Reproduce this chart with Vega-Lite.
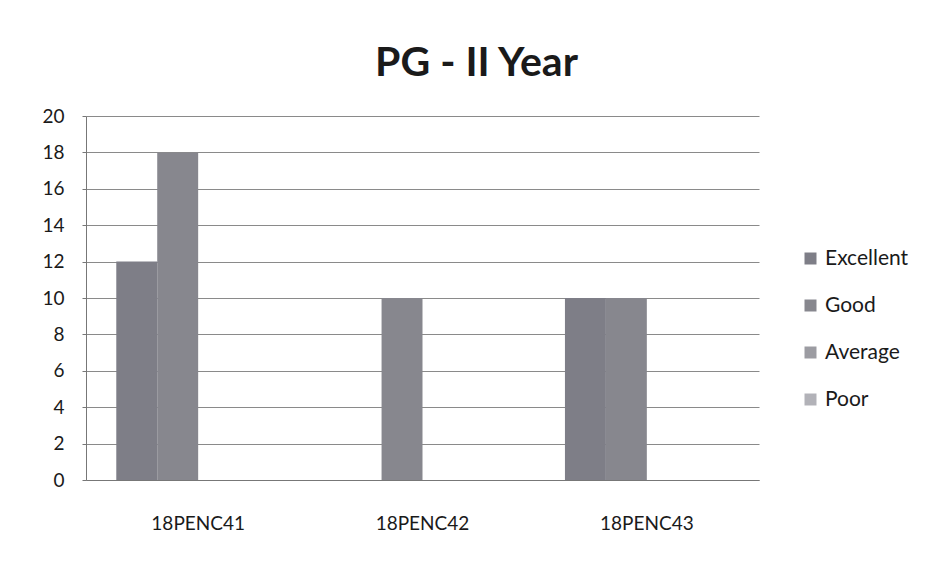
{
  "$schema": "https://vega.github.io/schema/vega-lite/v6.json",
  "autosize": {"type": "none"},
  "width": 673,
  "height": 364,
  "padding": {"left": 86, "top": 116, "right": 185, "bottom": 85},
  "background": "#ffffff",
  "title": {
    "text": "PG - II Year",
    "font": "Lato",
    "fontSize": 41,
    "fontWeight": "bold",
    "color": "#1a1a1a",
    "anchor": "middle",
    "dx": 54,
    "offset": 22
  },
  "data": {
    "values": [
      {"course": "18PENC41", "rating": "Excellent", "count": 12},
      {"course": "18PENC41", "rating": "Good", "count": 18},
      {"course": "18PENC41", "rating": "Average", "count": 0},
      {"course": "18PENC41", "rating": "Poor", "count": 0},
      {"course": "18PENC42", "rating": "Excellent", "count": 0},
      {"course": "18PENC42", "rating": "Good", "count": 10},
      {"course": "18PENC42", "rating": "Average", "count": 0},
      {"course": "18PENC42", "rating": "Poor", "count": 0},
      {"course": "18PENC43", "rating": "Excellent", "count": 10},
      {"course": "18PENC43", "rating": "Good", "count": 10},
      {"course": "18PENC43", "rating": "Average", "count": 0},
      {"course": "18PENC43", "rating": "Poor", "count": 0}
    ]
  },
  "mark": {"type": "bar"},
  "encoding": {
    "x": {
      "field": "course",
      "type": "nominal",
      "sort": ["18PENC41", "18PENC42", "18PENC43"],
      "scale": {"paddingInner": 0.27, "paddingOuter": 0.135},
      "axis": {
        "title": null,
        "labelAngle": 0,
        "labelFont": "Lato",
        "labelFontSize": 19,
        "labelColor": "#1a1a1a",
        "labelPadding": 34,
        "labelDx": -10,
        "ticks": false,
        "domain": true,
        "domainColor": "#777777",
        "grid": false
      }
    },
    "xOffset": {
      "field": "rating",
      "type": "nominal",
      "sort": ["Excellent", "Good", "Average", "Poor"],
      "scale": {"paddingInner": 0, "paddingOuter": 0}
    },
    "y": {
      "field": "count",
      "type": "quantitative",
      "scale": {"domain": [0, 20]},
      "axis": {
        "title": null,
        "values": [0, 2, 4, 6, 8, 10, 12, 14, 16, 18, 20],
        "labelFont": "Lato",
        "labelFontSize": 19,
        "labelColor": "#1a1a1a",
        "labelPadding": 18,
        "tickSize": 4,
        "tickColor": "#777777",
        "domainColor": "#777777",
        "gridColor": "#8a8a8a",
        "gridWidth": 1
      }
    },
    "color": {
      "field": "rating",
      "type": "nominal",
      "sort": ["Excellent", "Good", "Average", "Poor"],
      "scale": {
        "domain": ["Excellent", "Good", "Average", "Poor"],
        "range": ["#7e7e87", "#87878e", "#9c9ca2", "#b2b2b8"]
      },
      "legend": {
        "title": null,
        "orient": "none",
        "legendX": 714,
        "legendY": 132,
        "symbolType": "square",
        "symbolSize": 144,
        "symbolStrokeWidth": 0,
        "labelFont": "Lato",
        "labelFontSize": 21,
        "labelColor": "#1a1a1a",
        "rowPadding": 25,
        "labelOffset": 4
      }
    }
  },
  "config": {
    "view": {"stroke": null}
  }
}
